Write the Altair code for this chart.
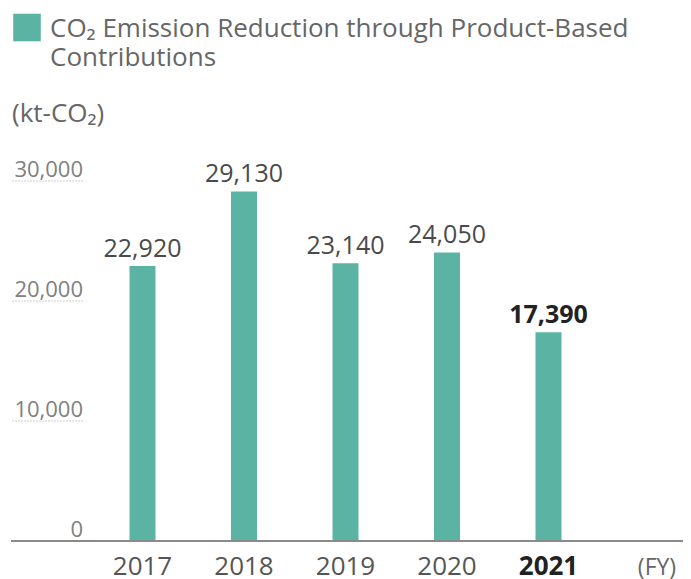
import altair as alt
import pandas as pd

# ---- data ----
years = ["2017", "2018", "2019", "2020", "2021"]
values = [22920, 29130, 23140, 24050, 17390]
value_labels = ["22,920", "29,130", "23,140", "24,050", "17,390"]
highlight_year = "2021"
y_ticks = [10000, 20000, 30000, 0]
y_tick_labels = ["10,000", "20,000", "30,000", "0"]
title_line1 = "CO\u2082 Emission Reduction through Product-Based"
title_line2 = "Contributions"
unit_label = "(kt-CO\u2082)"
fy_label = "(FY)"

TEAL = "#5bb3a3"
FONT = "Open Sans"
L = 20  # left padding of plot area
W = 635
TOTAL_W = 675

df = pd.DataFrame({"year": years, "value": values, "label": value_labels})
ticks_df = pd.DataFrame({"tick": y_ticks, "tlabel": y_tick_labels})
one = pd.DataFrame({"k": [0]})

x_scale = alt.Scale(domain=years, paddingInner=0.744, paddingOuter=1)
y_scale = alt.Scale(domain=[0, 44417], nice=False)
x_enc = alt.X("year:N", scale=x_scale, axis=None)
y_enc = alt.Y("value:Q", scale=y_scale, axis=None)

bars = alt.Chart(df).mark_bar(color=TEAL).encode(x=x_enc, y=y_enc)

is_hl = f"datum.year == '{highlight_year}'"
not_hl = f"datum.year != '{highlight_year}'"

vlabels = alt.Chart(df).transform_filter(not_hl).mark_text(
    baseline="alphabetic", dy=-9, fontSize=25, font=FONT, color="#4a4a4a"
).encode(x=x_enc, y=y_enc, text="label:N")

vlabels_b = alt.Chart(df).transform_filter(is_hl).mark_text(
    baseline="alphabetic", dy=-9, fontSize=25, font=FONT, color="#222222", fontWeight="bold"
).encode(x=x_enc, y=y_enc, text="label:N")

xlabels = alt.Chart(df).transform_filter(not_hl).mark_text(
    baseline="alphabetic", fontSize=26, font=FONT, color="#555555"
).encode(x=x_enc, y=alt.value(567), text="year:N")

xlabels_b = alt.Chart(df).transform_filter(is_hl).mark_text(
    baseline="alphabetic", fontSize=26, font=FONT, color="#222222", fontWeight="bold"
).encode(x=x_enc, y=alt.value(567), text="year:N")

underlines = alt.Chart(ticks_df).transform_filter("datum.tick > 0").mark_rule(
    color="#cfcfcf", strokeWidth=1.2, strokeDash=[2, 1]
).encode(
    y=alt.Y("tick:Q", scale=y_scale, axis=None),
    x=alt.value(4 - L),
    x2=alt.value(75 - L),
)

tick_text = alt.Chart(ticks_df).mark_text(
    align="right", baseline="alphabetic", dy=-4, fontSize=22, font=FONT, color="#808080"
).encode(
    y=alt.Y("tick:Q", scale=y_scale, axis=None),
    x=alt.value(75 - L),
    text="tlabel:N",
)

baseline = alt.Chart(one).mark_rule(color="#8a8a8a", strokeWidth=2).encode(
    y=alt.value(533),
    x=alt.value(3 - L),
    x2=alt.value(TOTAL_W - L),
)

legend_sq = alt.Chart(one).mark_point(
    shape="square", filled=True, color=TEAL, opacity=1, size=760
).encode(x=alt.value(19 - L), y=alt.value(19.5))

title_text1 = alt.Chart(one).mark_text(
    text=title_line1, align="left", baseline="alphabetic", fontSize=26,
    font=FONT, color="#666666"
).encode(x=alt.value(42 - L), y=alt.value(29))

title_text2 = alt.Chart(one).mark_text(
    text=title_line2, align="left", baseline="alphabetic", fontSize=26,
    font=FONT, color="#666666"
).encode(x=alt.value(42 - L), y=alt.value(58))

unit_text = alt.Chart(one).mark_text(
    text=unit_label, align="left", baseline="alphabetic", fontSize=26,
    font=FONT, color="#666666"
).encode(x=alt.value(4 - L), y=alt.value(114))

fy_text = alt.Chart(one).mark_text(
    text=fy_label, align="center", baseline="alphabetic", fontSize=23,
    font=FONT, color="#666666"
).encode(x=alt.value(649 - L), y=alt.value(567))

chart = alt.layer(
    underlines, bars, vlabels, vlabels_b, xlabels, xlabels_b, tick_text, baseline,
    legend_sq, title_text1, title_text2, unit_text, fy_text
).properties(
    width=W, height=533,
    autosize=alt.AutoSizeParams(type="none"),
    padding={"left": L, "top": 0, "right": TOTAL_W - W - L, "bottom": 38},
).configure_view(strokeWidth=0)

chart.save("out.html", embed_options={"renderer": "svg", "actions": False})
